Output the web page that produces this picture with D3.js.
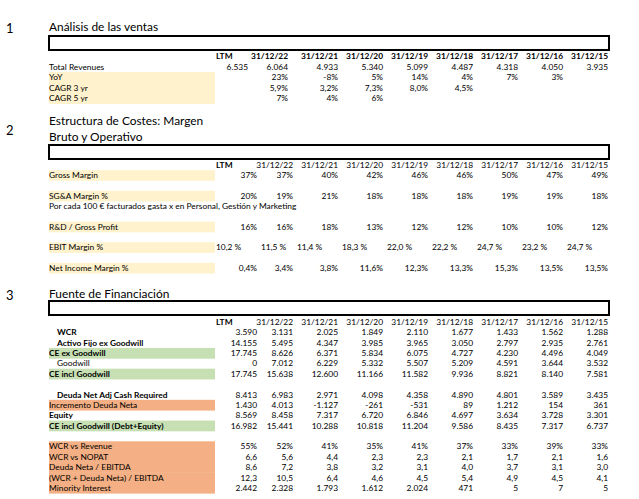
<!DOCTYPE html>
<html><head><meta charset="utf-8">
<script src="https://cdn.jsdelivr.net/npm/d3@7"></script>
<style>body{margin:0;background:#fff}svg{display:block}</style>
</head><body>
<script>
// ---------- DATA ----------
const columns = ["LTM","31/12/22","31/12/21","31/12/20","31/12/19","31/12/18","31/12/17","31/12/16","31/12/15"];

// 1 Análisis de las ventas
const totalRevenues = [6535,6064,4933,5340,5099,4487,4318,4050,3935];
const yoy          = [null,23,-8,5,14,4,7,3,null];
const cagr3        = [null,5.9,3.2,7.3,8.0,4.5,null,null,null];
const cagr5        = [null,7,4,6,null,null,null,null,null];

// 2 Estructura de costes
const grossMargin     = [37,37,40,42,46,46,50,47,49];
const sgaMargin       = [20,19,21,18,18,18,19,19,18];
const rdGrossProfit   = [16,16,18,13,12,12,10,10,12];
const ebitMargin      = [10.2,11.5,11.4,18.3,22.0,22.2,24.7,23.2,24.7];
const netIncomeMargin = [0.4,3.4,3.8,11.6,12.3,13.3,15.3,13.5,13.5];

// 3 Fuente de financiación
const wcr              = [3590,3131,2025,1849,2110,1677,1433,1562,1288];
const activoFijo       = [14155,5495,4347,3985,3965,3050,2797,2935,2761];
const ceExGoodwill     = [17745,8626,6371,5834,6075,4727,4230,4496,4049];
const goodwill         = [0,7012,6229,5332,5507,5209,4591,3644,3532];
const ceInclGoodwill   = [17745,15638,12600,11166,11582,9936,8821,8140,7581];
const deudaNetAdj      = [8413,6983,2971,4098,4358,4890,4801,3589,3435];
const incrementoDeuda  = [1430,4013,-1127,-261,-531,89,1212,154,361];
const equity           = [8569,8458,7317,6720,6846,4697,3634,3728,3301];
const ceDebtEquity     = [16982,15441,10288,10818,11204,9586,8435,7317,6737];
const wcrVsRevenue     = [55,52,41,35,41,37,33,39,33];
const wcrVsNopat       = [6.6,5.6,4.4,2.3,2.3,2.1,1.7,2.1,1.6];
const deudaEbitda      = [8.6,7.2,3.8,3.2,3.1,4.0,3.7,3.1,3.0];
const wcrDeudaEbitda   = [12.3,10.5,6.4,4.6,4.5,5.4,4.9,4.5,4.1];
const minorityInterest = [2442,2328,1793,1612,2024,471,5,7,5];

// ---------- FORMATS ----------
const loc = d3.formatLocale({decimal:",",thousands:".",grouping:[3],currency:["","€"],minus:"-"});
const fInt = loc.format(",d");
const fPct0 = v => loc.format("d")(v) + "%";
const fPct1 = v => loc.format(".1f")(v) + "%";
const fDec1 = loc.format(".1f");
const fEbit = v => loc.format(".1f")(v) + " %";

// ---------- LAYOUT ----------
const W = 639, H = 499;
const FONT = "Lato, 'Open Sans', sans-serif";
const BEIGE = "#FFF2CC", GREEN = "#C6E0B4", ORANGE = "#F4B084";
const labelX = 49, indentX = 57, bandRight = 215, tableRight = 609;
const dataSize = 8.4, titleSize = 11.9;

const svg = d3.select("body").append("svg").attr("width", W).attr("height", H)
  .style("font-family", FONT);
svg.append("rect").attr("width", W).attr("height", H).attr("fill", "#fff");

const xDates = d3.scalePoint().domain(columns.slice(1)).range([293, 608]);
function colRight(c, shift) {
  if (c === "LTM") return 257 + (shift ? shift.ltm : 0);
  if (c === columns[1]) return xDates(c) + (shift ? shift.first : 0);
  return xDates(c);
}
function colLeft(c) {
  if (c === "LTM") return 216;
  const i = columns.indexOf(c);
  return colRight(columns[i - 1]) + 4;
}

function section(cfg) {
  const g = svg.append("g");
  const y = d3.scaleLinear().domain([0, 1]).range([cfg.headerY, cfg.headerY + cfg.step]);
  g.append("text").attr("x", 6).attr("y", cfg.numY).attr("dy", "0.35em")
    .attr("font-size", 13).attr("fill", "#000").text(cfg.num);
  cfg.title.forEach((t, i) => {
    g.append("text").attr("x", labelX).attr("y", cfg.titleY + i * cfg.titleStep).attr("dy", "0.35em")
      .attr("font-size", titleSize).attr("fill", "#000").text(t);
  });
  g.append("rect").attr("x", labelX).attr("y", cfg.boxY).attr("width", tableRight - labelX)
    .attr("height", cfg.boxH).attr("fill", "none").attr("stroke", "#000").attr("stroke-width", 2);
  cfg.rows.forEach(r => {
    if (r.fill) g.append("rect").attr("x", labelX).attr("y", y(r.i) - cfg.step / 2)
      .attr("width", bandRight - labelX).attr("height", cfg.step + 0.4).attr("fill", r.fill);
  });
  columns.forEach(c => {
    const isLTM = c === "LTM";
    g.append("text").attr("x", isLTM ? colLeft(c) : colRight(c, cfg.shift)).attr("y", y(0)).attr("dy", "0.35em")
      .attr("text-anchor", isLTM ? "start" : "end")
      .attr("font-size", dataSize).attr("font-weight", (isLTM || cfg.boldHeader) ? 700 : 400)
      .attr("fill", "#000").text(c);
  });
  cfg.rows.forEach(r => {
    g.append("text").attr("x", r.indent ? indentX : labelX).attr("y", y(r.i)).attr("dy", "0.35em")
      .attr("font-size", dataSize).attr("font-weight", r.bold ? 700 : 400).attr("fill", "#000").text(r.label);
    if (!r.values) return;
    r.values.forEach((v, j) => {
      if (v === null || v === undefined) return;
      const c = columns[j];
      g.append("text")
        .attr("x", r.left ? colLeft(c) : colRight(c, cfg.shift))
        .attr("y", y(r.i)).attr("dy", "0.35em")
        .attr("text-anchor", r.left ? "start" : "end")
        .attr("font-size", dataSize).attr("fill", "#000").text(r.fmt(v));
    });
  });
}

section({
  num: "1", numY: 28, title: ["Análisis de las ventas"], titleY: 27, titleStep: 0,
  boxY: 36, boxH: 14, headerY: 56, step: 10.6, boldHeader: true, shift: {ltm: -9, first: -5},
  rows: [
    {i: 1, label: "Total Revenues", values: totalRevenues, fmt: fInt},
    {i: 2, label: "YoY", values: yoy, fmt: fPct0, fill: BEIGE},
    {i: 3, label: "CAGR 3 yr", values: cagr3, fmt: fPct1, fill: BEIGE},
    {i: 4, label: "CAGR 5 yr", values: cagr5, fmt: fPct0, fill: BEIGE}
  ]
});

section({
  num: "2", numY: 130, title: ["Estructura de Costes: Margen", "Bruto y Operativo"], titleY: 121, titleStep: 16,
  boxY: 145, boxH: 14, headerY: 165, step: 10.3, boldHeader: false,
  rows: [
    {i: 1, label: "Gross Margin", values: grossMargin, fmt: fPct0, fill: BEIGE},
    {i: 3, label: "SG&A Margin %", values: sgaMargin, fmt: fPct0, fill: BEIGE},
    {i: 4, label: "Por cada 100 € facturados gasta x en Personal, Gestión y Marketing"},
    {i: 6, label: "R&D / Gross Profit", values: rdGrossProfit, fmt: fPct0, fill: BEIGE},
    {i: 8, label: "EBIT Margin %", values: ebitMargin, fmt: fEbit, fill: BEIGE, left: true},
    {i: 10, label: "Net Income Margin %", values: netIncomeMargin, fmt: fPct1, fill: BEIGE}
  ]
});

section({
  num: "3", numY: 295, title: ["Fuente de Financiación"], titleY: 294, titleStep: 0,
  boxY: 301, boxH: 14, headerY: 322, step: 10.375, boldHeader: false,
  rows: [
    {i: 1, label: "WCR", values: wcr, fmt: fInt, bold: true, indent: true},
    {i: 2, label: "Activo Fijo ex Goodwill", values: activoFijo, fmt: fInt, bold: true, indent: true},
    {i: 3, label: "CE ex Goodwill", values: ceExGoodwill, fmt: fInt, bold: true, fill: GREEN},
    {i: 4, label: "Goodwill", values: goodwill, fmt: fInt, indent: true},
    {i: 5, label: "CE incl Goodwill", values: ceInclGoodwill, fmt: fInt, bold: true, fill: GREEN},
    {i: 7, label: "Deuda Net Adj Cash Required", values: deudaNetAdj, fmt: fInt, bold: true, indent: true},
    {i: 8, label: "Incremento Deuda Neta", values: incrementoDeuda, fmt: fInt, fill: ORANGE},
    {i: 9, label: "Equity", values: equity, fmt: fInt, bold: true},
    {i: 10, label: "CE incl Goodwill (Debt+Equity)", values: ceDebtEquity, fmt: fInt, bold: true, fill: GREEN},
    {i: 12, label: "WCR vs Revenue", values: wcrVsRevenue, fmt: fPct0, fill: ORANGE},
    {i: 13, label: "WCR vs NOPAT", values: wcrVsNopat, fmt: fDec1, fill: ORANGE},
    {i: 14, label: "Deuda Neta / EBITDA", values: deudaEbitda, fmt: fDec1, fill: ORANGE},
    {i: 15, label: "(WCR + Deuda Neta) / EBITDA", values: wcrDeudaEbitda, fmt: fDec1, fill: ORANGE},
    {i: 16, label: "Minority Interest", values: minorityInterest, fmt: fInt, fill: ORANGE}
  ]
});
</script>
</body></html>
